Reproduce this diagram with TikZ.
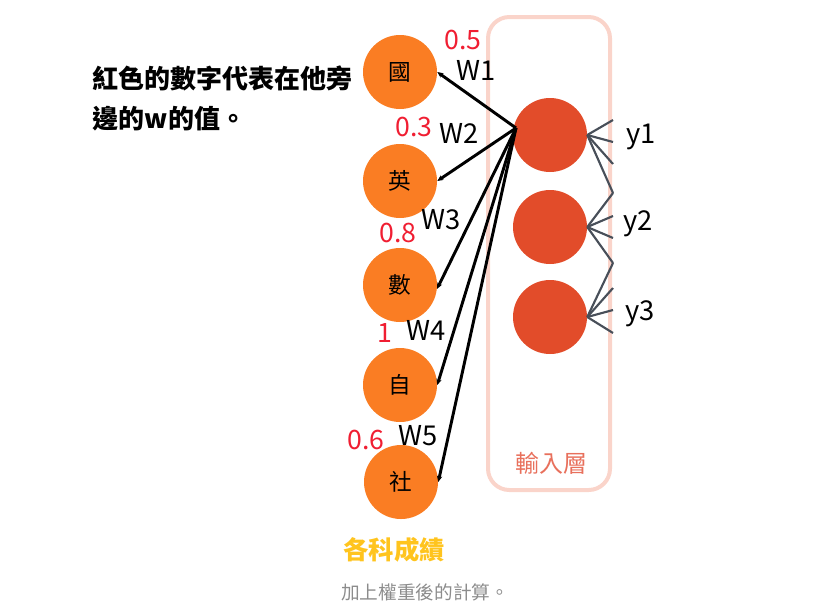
\documentclass[tikz,border=0pt]{standalone}
\usepackage{fontspec}
\setmainfont{Noto Sans CJK TC}
\usetikzlibrary{arrows.meta,positioning}
\definecolor{subjOrange}{RGB}{250,125,35}
\definecolor{layerRed}{RGB}{226,76,42}
\definecolor{framePink}{RGB}{250,212,202}
\definecolor{layerText}{RGB}{232,112,92}
\definecolor{weightRed}{RGB}{240,30,50}
\definecolor{titleGold}{RGB}{255,196,30}
\definecolor{lineGray}{RGB}{72,79,89}
\definecolor{captionGray}{RGB}{140,140,140}
\tikzset{
  subject node/.style={circle,fill=subjOrange,inner sep=0pt,minimum size=55.5pt,font=\fontsize{17}{17}\selectfont},
  hidden node/.style={circle,fill=layerRed,inner sep=0pt,minimum size=55.5pt},
  weight arrow/.style={-{Stealth[length=1.6mm,width=1.4mm]},line width=2.2pt,draw=black},
  fan line/.style={line width=1.6pt,draw=lineGray},
  weight label/.style={font=\fontsize{20.5}{20.5}\selectfont,text=black},
  value label/.style={font=\fontsize{20}{20}\selectfont,text=weightRed},
  layer frame/.style={draw=framePink,line width=3pt,rounded corners=16pt}
}
\begin{document}
\begin{tikzpicture}[x=0.75pt,y=-0.75pt]
        \useasboundingbox (0,0) rectangle (838,608);
        \draw[layer frame] (488,17) rectangle (610,490);
        \node[font=\fontsize{18}{18}\selectfont,text=layerText] (layername) at (551,463) {輸入層};
        \node[subject node] (guo) at (400,72) {國};
        \node[subject node] (ying) at (400,181) {英};
        \node[subject node] (shu) at (400,285) {數};
        \node[subject node] (zi) at (400,385) {自};
        \node[subject node] (she) at (401,482) {社};
        \node[hidden node] (h1) at (550,135) {};
        \node[hidden node] (h2) at (550,227) {};
        \node[hidden node] (h3) at (550,317) {};
        \coordinate (hub) at (516,128);
        \draw[weight arrow] (hub) -- (guo.east);
        \draw[weight arrow] (hub) -- (ying.east);
        \draw[weight arrow] (hub) -- (shu.-6);
        \draw[weight arrow] (hub) -- (zi.east);
        \draw[weight arrow] (hub) -- (she.east);
        % lines on the right of the hidden layer
        \foreach \y [count=\i] in {120,142,164,193,216,238,263,288,310,333}
          \coordinate (o\i) at (613,\y);
        \foreach \i in {1,...,4} \draw[fan line] (h1.east) -- (o\i);
        \foreach \i in {4,...,7} \draw[fan line] (h2.east) -- (o\i);
        \foreach \i in {7,...,10} \draw[fan line] (h3.east) -- (o\i);
        \node[weight label] (yl1) at (641,137) {y1};
        \node[weight label] (yl2) at (638,224) {y2};
        \node[weight label] (yl3) at (640,314) {y3};
        % weights
        \node[value label] (v1) at (463,40) {0.5};
        \node[weight label] (w1) at (476,70) {W1};
        \node[value label] (v2) at (414,127) {0.3};
        \node[weight label] (w2) at (459,133) {W2};
        \node[weight label] (w3) at (441,220) {W3};
        \node[value label] (v3) at (398,233) {0.8};
        \node[weight label] (w4) at (426,330) {W4};
        \node[value label] (v4) at (385,333) {1};
        \node[weight label] (w5) at (418,436) {W5};
        \node[value label] (v5) at (366,440) {0.6};
        \node[font=\fontsize{19.5}{30}\selectfont\bfseries,align=left,anchor=west] (note) at (88,98) {紅色的數字代表在他旁\\邊的w的值。};
        \node[font=\fontsize{19}{19}\selectfont\bfseries,text=titleGold] (title) at (394,550) {各科成績};
        \node[font=\fontsize{14}{14}\selectfont,text=captionGray] (caption) at (425,592) {加上權重後的計算。};
      \end{tikzpicture}
\end{document}
